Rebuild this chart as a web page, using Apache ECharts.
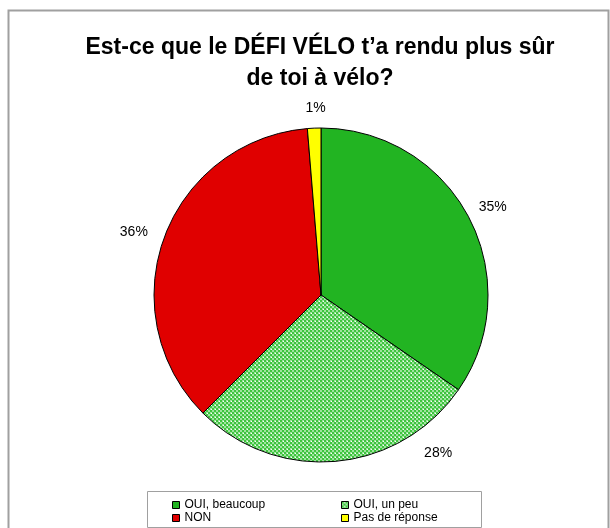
<!DOCTYPE html>
<html>
<head>
<meta charset="utf-8">
<script src="https://cdn.jsdelivr.net/npm/echarts@6/dist/echarts.min.js"></script>
<style>
  html, body { margin: 0; padding: 0; background: #fff; }
  #chart { width: 610px; height: 528px; }
</style>
</head>
<body>
<div id="chart"></div>
<script>
  const titleText = 'Est-ce que le DÉFI VÉLO t\u2019a rendu plus sûr\nde toi à vélo?'
  const categories = ['OUI, beaucoup', 'OUI, un peu', 'NON', 'Pas de réponse']
  const values = [34.6, 27.9, 36.2, 1.3]
  const colors = ['#22b422', null, '#e00000', '#ffff00']

  // checkered light green fill for "OUI, un peu"
  function makePattern () {
    let c = document.createElement('canvas')
    c.width = 4
    c.height = 4
    let ctx = c.getContext('2d')
    ctx.fillStyle = '#9fe49f'
    ctx.fillRect(0, 0, 4, 4)
    ctx.fillStyle = '#3ec43e'
    ctx.fillRect(0, 0, 2, 2)
    ctx.fillRect(2, 2, 2, 2)
    ctx.fillStyle = '#ffffff'
    ctx.fillRect(3, 1, 1, 1)
    return c
  }
  const pattern = { image: makePattern(), repeat: 'repeat' }

  let pieData = []
  for (let i = 0; i < categories.length; i++) {
    pieData.push({
      name: categories[i],
      value: values[i],
      itemStyle: { color: colors[i] || pattern },
    })
  }

  // label nudges, Excel placed some labels by hand
  const labelNudge = [[-6, -6], [80, -18], [0, -2], [19, -10]]

  let legendBase = {
    orient: 'vertical',
    top: 499,
    height: 60,
    padding: 0,
    itemWidth: 7,
    itemHeight: 7,
    itemGap: 1,
    icon: 'rect',
    selectedMode: false,
    itemStyle: { borderColor: '#000', borderWidth: 1 },
    textStyle: { fontFamily: 'Liberation Sans, Arial, sans-serif', fontSize: 12, color: '#000' },
  }

  let chart = echarts.init(document.getElementById('chart'))
  let option = {
    backgroundColor: '#fff',
    animation: false,
    title: {
      text: titleText,
      left: 315,
      textAlign: 'center',
      top: 27,
      textStyle: {
        fontFamily: 'Liberation Sans, Arial, sans-serif',
        fontSize: 23,
        fontWeight: 'bold',
        color: '#000',
        lineHeight: 31,
      },
    },
    legend: [
      Object.assign({}, legendBase, { left: 172, data: [categories[0], categories[2]] }),
      Object.assign({}, legendBase, { left: 341, data: [categories[1], categories[3]] }),
    ],
    graphic: [{
      type: 'rect',
      shape: { x: 8.5, y: 10.5, width: 600, height: 540 },
      style: { fill: 'none', stroke: '#a0a0a0', lineWidth: 2 },
      silent: true,
    }, {
      type: 'rect',
      shape: { x: 147.5, y: 491.5, width: 334, height: 36 },
      style: { fill: 'none', stroke: '#a0a0a0', lineWidth: 1 },
      silent: true,
    }],
    series: [{
      type: 'pie',
      center: [321, 295],
      radius: [0, 167],
      startAngle: 90,
      clockwise: true,
      avoidLabelOverlap: false,
      emphasis: { disabled: true },
      itemStyle: { borderColor: '#000', borderWidth: 1 },
      label: {
        show: true,
        position: 'outside',
        formatter: function (p) { return Math.round(p.percent) + '%' },
        fontFamily: 'Liberation Sans, Arial, sans-serif',
        fontSize: 14,
        color: '#000',
      },
      labelLine: { show: false, length: 10, length2: 2 },
      labelLayout: function (params) {
        let n = labelNudge[params.dataIndex]
        return { dx: n[0], dy: n[1] }
      },
      data: pieData,
    }],
  }
  chart.setOption(option)
</script>
</body>
</html>
